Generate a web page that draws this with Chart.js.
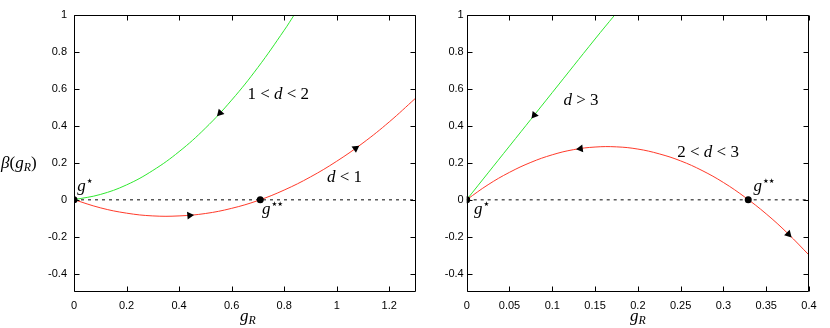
<!DOCTYPE html>
<html>
<head>
<meta charset="utf-8">
<script src="https://cdn.jsdelivr.net/npm/chart.js@4/dist/chart.umd.min.js"></script>
<style>
  html, body { margin: 0; padding: 0; background: #fff; }
  #wrap { position: relative; width: 830px; height: 328px; }
  canvas { position: absolute; top: 0; }
</style>
</head>
<body>
<div id="wrap">
  <canvas id="left" width="420" height="328" style="left:0"></canvas>
  <canvas id="right" width="410" height="328" style="left:420px"></canvas>
</div>
<script>
// ---- data ----
// left panel: d < 2
const leftGreenX = [0, 0.1, 0.2, 0.3, 0.4, 0.5, 0.6, 0.7, 0.8, 0.838];
const leftGreenY = [0, 0.028, 0.080, 0.158, 0.260, 0.387, 0.539, 0.716, 0.917, 1.0];
const leftRedX = [0, 0.1, 0.2, 0.3, 0.4, 0.5, 0.6, 0.7, 0.8, 0.9, 1.0, 1.1, 1.2, 1.3];
const leftRedY = [0, -0.044, -0.073, -0.088, -0.088, -0.075, -0.047, -0.005, 0.052, 0.123, 0.208, 0.307, 0.421, 0.549];
const leftFixedX = [0, 0.709];
const leftXTicks = [0, 0.2, 0.4, 0.6, 0.8, 1, 1.2];

// right panel: d > 2
const rightGreenX = [0, 0.05, 0.1, 0.15, 0.173];
const rightGreenY = [0, 0.29, 0.58, 0.87, 1.0];
const rightRedX = [0, 0.025, 0.05, 0.075, 0.1, 0.125, 0.15, 0.175, 0.2, 0.225, 0.25, 0.275, 0.3, 0.325, 0.35, 0.375, 0.4];
const rightRedY = [0, 0.081, 0.148, 0.202, 0.243, 0.271, 0.285, 0.286, 0.274, 0.248, 0.210, 0.158, 0.093, 0.014, -0.077, -0.182, -0.300];
const rightFixedX = [0, 0.329];
const rightXTicks = [0, 0.05, 0.1, 0.15, 0.2, 0.25, 0.3, 0.35, 0.4];

const yTicks = [-0.4, -0.2, 0, 0.2, 0.4, 0.6, 0.8, 1];

// flow arrows: position on curve and direction (+1 = towards larger g)
const leftGreenArrows = [{ x: 0.556, y: 0.469, dir: -1 }];
const leftRedArrows = [{ x: 0.44, y: -0.085, dir: 1 }, { x: 1.072, y: 0.278, dir: 1 }];
const rightGreenArrows = [{ x: 0.079, y: 0.458, dir: -1 }];
const rightRedArrows = [{ x: 0.133, y: 0.276, dir: -1 }, { x: 0.376, y: -0.187, dir: 1 }];

const GREEN = '#2fe82f';
const RED = '#ff3a2a';
const SERIF = '"Liberation Serif", "DejaVu Serif", serif';
const SANS = '"Liberation Sans", Arial, sans-serif';

const pts = (xs, ys) => xs.map((x, i) => ({ x, y: ys[i] }));

// rotate the triangle along the curve tangent, in pixel space
function arrowRotation(ctx, xs, ys) {
    const p = ctx.raw;
    if (!p) return 0;
    const sx = ctx.chart.scales.x, sy = ctx.chart.scales.y;
    let i = 0;
    while (i < xs.length - 2 && xs[i + 1] < p.x) i++;
    const dx = (sx.getPixelForValue(xs[i + 1]) - sx.getPixelForValue(xs[i])) * p.dir;
    const dy = (sy.getPixelForValue(ys[i + 1]) - sy.getPixelForValue(ys[i])) * p.dir;
    return Math.atan2(dx, -dy) * 180 / Math.PI;
}

function curve(xs, ys, color) {
    return { type: 'line', data: pts(xs, ys), borderColor: color, borderWidth: 1,
        pointRadius: 0, tension: 0.4, order: 3 };
}
function arrows(list, xs, ys) {
    return { type: 'scatter', data: list, backgroundColor: '#000', borderColor: '#000', borderWidth: 0,
        pointStyle: 'triangle', pointRadius: 4.5, pointHoverRadius: 4.5,
        pointRotation: c => arrowRotation(c, xs, ys), order: 1 };
}

// draw mixed roman / italic / sub / superscript text as plain canvas text
function drawMath(ctx, x, y, parts, size) {
    let cx = x;
    ctx.textBaseline = 'alphabetic';
    ctx.textAlign = 'left';
    parts.forEach(p => {
        const s = size * (p.s || 1);
        ctx.font = (p.i ? 'italic ' : '') + s + 'px ' + (p.f || SERIF);
        ctx.fillText(p.t, cx + (p.dx || 0), y + (p.dy || 0));
        cx += ctx.measureText(p.t).width + (p.dx || 0);
    });
}

const framePlugin = {
    id: 'frame',
    afterDatasetsDraw(chart, args, opts) {
        const { ctx, chartArea: a, scales } = chart;
        ctx.save();
        ctx.strokeStyle = '#000';
        ctx.lineWidth = 1;
        ctx.beginPath();
        const L = Math.round(a.left) + 0.5, R = Math.round(a.right) - 0.5;
        const T = Math.round(a.top) + 0.5, B = Math.round(a.bottom) - 0.5;
        ctx.rect(L, T, R - L, B - T);
        scales.x.ticks.forEach(t => {
            const px = Math.round(scales.x.getPixelForValue(t.value)) + 0.5;
            ctx.moveTo(px, B); ctx.lineTo(px, B - 5);
            ctx.moveTo(px, T); ctx.lineTo(px, T + 5);
        });
        scales.y.ticks.forEach(t => {
            const py = Math.round(scales.y.getPixelForValue(t.value)) + 0.5;
            ctx.moveTo(L, py); ctx.lineTo(L + 5, py);
            ctx.moveTo(R, py); ctx.lineTo(R - 5, py);
        });
        ctx.stroke();
        ctx.fillStyle = '#000';
        (opts.labels || []).forEach(l => {
            const px = l.px !== undefined ? l.px : scales.x.getPixelForValue(l.x);
            const py = l.py !== undefined ? l.py : scales.y.getPixelForValue(l.y);
            drawMath(ctx, px, py, l.parts, l.size || 17);
        });
        ctx.restore();
    }
};

function fmt(v) { return String(Number(v.toFixed(2))); }

function makePanel(id, cfg) {
    return new Chart(document.getElementById(id), {
        type: 'line',
        data: { datasets: [
            { type: 'line', data: [{ x: 0, y: 0 }, { x: cfg.xMax, y: 0 }], borderColor: '#5a5a5a',
              borderWidth: 1.5, borderDash: [3, 4], pointRadius: 0, order: 4 },
            curve(cfg.gx, cfg.gy, GREEN),
            curve(cfg.rx, cfg.ry, RED),
            { type: 'scatter', data: cfg.fixed.map(x => ({ x, y: 0 })), backgroundColor: '#000',
              borderWidth: 0, pointRadius: 3.5, order: 2 },
            arrows(cfg.ga, cfg.gx, cfg.gy),
            arrows(cfg.ra, cfg.rx, cfg.ry),
        ] },
        options: {
            responsive: false, animation: false, devicePixelRatio: 1,
            layout: { padding: { top: 15, right: cfg.padRight, left: 0, bottom: 0 } },
            plugins: { legend: { display: false }, tooltip: { enabled: false }, frame: { labels: cfg.labels } },
            scales: {
                x: { type: 'linear', min: 0, max: cfg.xMax,
                     grid: { display: false, drawTicks: false }, border: { display: false },
                     afterBuildTicks: s => { s.ticks = cfg.xTicks.map(v => ({ value: v })); },
                     afterFit: s => { s.height = 36; },
                     ticks: { padding: 7, color: '#000', font: { family: SANS, size: 11 }, maxRotation: 0,
                              autoSkip: false, callback: fmt } },
                y: { type: 'linear', min: -0.5, max: 1,
                     grid: { display: false, drawTicks: false }, border: { display: false },
                     afterBuildTicks: s => { s.ticks = yTicks.map(v => ({ value: v })); },
                     afterFit: s => { s.width = cfg.yWidth; },
                     ticks: { padding: cfg.yPad, color: '#000', font: { family: SANS, size: 11 },
                              autoSkip: false, callback: fmt } }
            }
        },
        plugins: [framePlugin]
    });
}

const STAR = '"DejaVu Sans", sans-serif';
const gStar = (n) => [{ t: 'g', i: true }, { t: '\u2605'.repeat(n), s: 0.38, dy: -8, dx: 1, f: STAR }];
const gR = [{ t: 'g', i: true }, { t: 'R', i: true, s: 0.7, dy: 3 }];

makePanel('left', {
    xMax: 1.3, xTicks: leftXTicks, padRight: 3, yWidth: 74, yPad: 7,
    gx: leftGreenX, gy: leftGreenY, rx: leftRedX, ry: leftRedY, fixed: leftFixedX,
    ga: leftGreenArrows, ra: leftRedArrows,
    labels: [
        { x: 0.66, y: 0.545, parts: [{ t: '1 < ' }, { t: 'd', i: true }, { t: ' < 2' }] },
        { x: 0.963, y: 0.095, parts: [{ t: 'd', i: true }, { t: ' < 1' }] },
        { x: 0.012, y: 0.045, parts: gStar(1) },
        { x: 0.716, y: -0.08, parts: gStar(2) },
        { px: 1, py: 168, parts: [{ t: '\u03B2', i: true }, { t: '(' }].concat(gR, [{ t: ')' }]) },
        { px: 240, py: 321, parts: gR }
    ]
});

makePanel('right', {
    xMax: 0.4, xTicks: rightXTicks, padRight: 21, yWidth: 46.7, yPad: 3,
    gx: rightGreenX, gy: rightGreenY, rx: rightRedX, ry: rightRedY, fixed: rightFixedX,
    ga: rightGreenArrows, ra: rightRedArrows,
    labels: [
        { x: 0.113, y: 0.515, parts: [{ t: 'd', i: true }, { t: ' > 3' }] },
        { x: 0.246, y: 0.232, parts: [{ t: '2 < ' }, { t: 'd', i: true }, { t: ' < 3' }] },
        { x: 0.335, y: 0.045, parts: gStar(2) },
        { x: 0.0085, y: -0.08, parts: gStar(1) },
        { px: 210, py: 321, parts: gR }
    ]
});
</script>
</body>
</html>
